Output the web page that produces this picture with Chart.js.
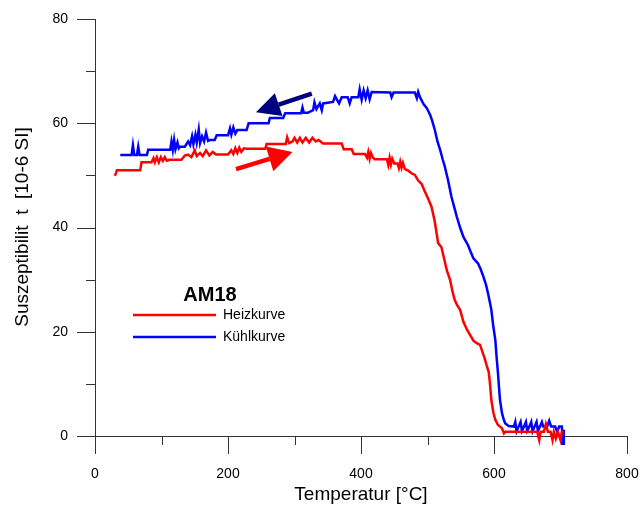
<!DOCTYPE html>
<html lang="de">
<head>
<meta charset="UTF-8">
<title>AM18 Suszeptibilität</title>
<script src="https://cdn.jsdelivr.net/npm/chart.js"></script>
<style>
  html, body { margin: 0; padding: 0; background: #fff; }
</style>
</head>
<body>
<canvas id="chart" width="640" height="506"></canvas>
<script>
// Heizkurve (red): temperature [°C] and susceptibility [10^-6 SI]
const heizT = [30, 33, 50, 68, 70, 85, 88, 90, 93, 96, 99, 102, 105, 108, 112, 130, 135, 140, 145, 150, 153, 158, 162, 167, 172, 177, 182, 200,
  205, 208, 211, 214, 217, 220, 224, 228, 256, 258, 287, 289, 292, 297, 300, 304, 308, 312, 317, 322, 327, 332, 336, 343, 371, 374, 386, 389,
  406, 409, 411, 413, 415, 418, 421, 439, 441, 443, 445, 447, 450, 455, 457, 459, 461, 463, 466, 471, 476, 481, 486, 491, 496, 501, 506, 511,
  516, 521, 525, 529, 534, 538, 541, 545, 549, 554, 559, 564, 569, 574, 579, 583, 586, 589, 592, 594, 596, 599, 602, 606, 609, 612, 615, 617,
  665, 668, 670, 675, 678, 681, 685, 688, 690, 693, 696, 700, 702, 704];
const heizK = [49.9, 51, 51, 51, 52.5, 52.5, 53.3, 52.5, 53.5, 52.5, 53.5, 52.8, 53.5, 52.8, 53, 53, 53.8, 54, 53.5, 54.8, 53.7, 54.3, 53.7, 54.8, 53.8, 54.5, 54, 54,
  54.8, 54.1, 55.2, 54.3, 55.3, 54.5, 55.2, 55.1, 55.1, 56, 56, 57.3, 56.2, 56.5, 57.2, 56.3, 57.2, 56.3, 57.2, 56.3, 57.2, 56.5, 56.8, 56.1, 56.1, 55, 55, 54.1,
  54.1, 53.4, 54.5, 53.2, 54.3, 53.4, 53.1, 53.1, 52, 53.4, 52.1, 53.2, 52.3, 52.3, 51.4, 52.6, 51.5, 52.4, 51.2, 50.9, 50.4, 50.1, 49, 48.4, 46.9, 45.5, 44, 41.1,
  37, 36.2, 34, 31.8, 29.9, 27.5, 26.1, 25, 24.2, 21.9, 20.5, 19.4, 18.3, 17.8, 17.5, 16, 14.9, 13.5, 12.3, 10, 6.9, 4.5, 3.1, 2.1, 1.8, 1.5, 0.5, 0.8,
  0.8, -0.8, 0.8, 0.8, 2.3, 0.8, 0.8, -0.8, 0.8, -0.5, 0.8, -0.8, 0.8, 0.8];

// Kühlkurve (blue)
const kuehlT = [38, 55, 57, 59, 63, 65, 67, 78, 80, 113, 115, 117, 119, 121, 124, 126, 128, 135, 140, 143, 146, 148, 151, 153, 156, 158, 161, 164,
  167, 170, 173, 180, 183, 200, 203, 205, 208, 211, 214, 218, 228, 231, 261, 263, 283, 286, 310, 312, 314, 320, 328, 330, 333, 338, 341, 343,
  358, 361, 364, 367, 371, 380, 383, 386, 396, 398, 401, 404, 407, 410, 413, 416, 444, 446, 449, 481, 484, 486, 489, 494, 499, 504, 507, 511,
  515, 519, 523, 526, 531, 536, 540, 544, 549, 554, 561, 565, 569, 576, 580, 584, 588, 591, 594, 596, 599, 602, 604, 606, 609, 612, 615, 617,
  622, 630, 632, 634, 637, 640, 642, 645, 648, 650, 653, 656, 658, 661, 664, 666, 669, 672, 674, 680, 683, 686, 692, 695, 698, 702, 704, 705];
const kuehlK = [53.9, 53.9, 55.8, 53.9, 53.9, 55.5, 53.9, 53.9, 54.9, 54.9, 56.5, 54.9, 56.8, 55, 56.3, 55.2, 55.5, 55.5, 56.5, 55.8, 57.5, 56, 57.8, 56.3, 58.8, 56.2, 57.5, 56.5,
  58.2, 56.6, 56.8, 56.8, 57.7, 57.7, 59, 57.8, 59.2, 58, 58.7, 58.7, 58.7, 60, 60, 61, 61, 61.9, 61.9, 63, 62, 62, 62.5, 64, 62.7, 63.8, 62.5, 63.8,
  64.1, 65.2, 64.5, 63.8, 65, 65, 63.8, 65, 65, 66.5, 64.5, 66.3, 64.8, 66.3, 64.6, 66, 65.9, 65, 65.9, 65.9, 64.8, 66, 64.9, 63.7, 62.9, 61.6, 60.5, 58.7,
  56.5, 54.9, 53, 51.7, 49, 45.9, 44, 42.1, 40, 38.2, 36.6, 35.3, 34.1, 33.1, 32, 30.6, 29, 27.4, 25.5, 24.2, 21, 18.4, 15, 12, 6.9, 4.4, 3, 2.4,
  1.9, 1.8, 2.7, 0.9, 1.8, 2.7, 1, 1.8, 2.7, 1, 1.8, 2.7, 0.9, 1.8, 2.7, 1, 1.8, 2.7, 1.8, 1.8, 2.9, 1.8, 1.8, 0.8, 1.8, 1.8, -1.5, 1.2];

const xTicks = [0, 200, 400, 600, 800];
const xMinor = [100, 300, 500, 700];
const yTicks = [0, 20, 40, 60, 80];
const yMinor = [10, 30, 50, 70];

// arrows in data units: [tail, tip]
const arrowHeiz = [[212, 51.2], [297, 54.5]];
const arrowKuehl = [[326, 65.7], [242, 62.1]];

const FONT = "'Liberation Sans', Arial, sans-serif";
Chart.defaults.font.family = FONT;

function drawArrow(ctx, x1, y1, x2, y2, color, headLen, headHalf) {
  const ang = Math.atan2(y2 - y1, x2 - x1);
  const bx = x2 - headLen * Math.cos(ang), by = y2 - headLen * Math.sin(ang);
  ctx.strokeStyle = color;
  ctx.fillStyle = color;
  ctx.lineWidth = 4.5;
  ctx.beginPath();
  ctx.moveTo(x1, y1);
  ctx.lineTo(bx, by);
  ctx.stroke();
  ctx.beginPath();
  ctx.moveTo(x2, y2);
  ctx.lineTo(bx + headHalf * Math.sin(ang), by - headHalf * Math.cos(ang));
  ctx.lineTo(bx - headHalf * Math.sin(ang), by + headHalf * Math.cos(ang));
  ctx.closePath();
  ctx.fill();
}

const axesPlugin = {
  id: 'axes',
  beforeDatasetsDraw(chart) {
    const ctx = chart.ctx, xs = chart.scales.x, ys = chart.scales.y;
    const x0 = xs.getPixelForValue(0), y0 = ys.getPixelForValue(0);
    ctx.save();
    ctx.strokeStyle = '#333';
    ctx.lineWidth = 1;
    ctx.beginPath();
    ctx.moveTo(x0 + 0.5, ys.getPixelForValue(80));
    ctx.lineTo(x0 + 0.5, y0);
    ctx.moveTo(x0, y0 + 0.5);
    ctx.lineTo(xs.getPixelForValue(800), y0 + 0.5);
    xTicks.forEach(v => { const p = Math.round(xs.getPixelForValue(v)) + 0.5; ctx.moveTo(p, y0); ctx.lineTo(p, y0 + 18); });
    xMinor.forEach(v => { const p = Math.round(xs.getPixelForValue(v)) + 0.5; ctx.moveTo(p, y0); ctx.lineTo(p, y0 + 9); });
    yTicks.forEach(v => { const p = Math.round(ys.getPixelForValue(v)) + 0.5; ctx.moveTo(x0, p); ctx.lineTo(x0 - 18, p); });
    yMinor.forEach(v => { const p = Math.round(ys.getPixelForValue(v)) + 0.5; ctx.moveTo(x0, p); ctx.lineTo(x0 - 9, p); });
    ctx.stroke();

    // y title, squeezed a little to the reference length
    ctx.fillStyle = '#000';
    ctx.translate(23, 227);
    ctx.rotate(-Math.PI / 2);
    ctx.textBaseline = 'middle';
    ctx.textAlign = 'center';
    ctx.font = '19px ' + FONT;
    const yTitle = 'Suszeptibilit  t  [10-6 SI]';
    const w = ctx.measureText(yTitle).width;
    ctx.scale(Math.min(1, 207 / w), 1);
    ctx.fillText(yTitle, 0, 0);
    ctx.restore();
  },
  afterDatasetsDraw(chart) {
    const ctx = chart.ctx, xs = chart.scales.x, ys = chart.scales.y;
    const px = p => [xs.getPixelForValue(p[0]), ys.getPixelForValue(p[1])];
    ctx.save();
    let t = px(arrowHeiz[0]), h = px(arrowHeiz[1]);
    drawArrow(ctx, t[0], t[1], h[0], h[1], '#ff0000', 24, 13);
    t = px(arrowKuehl[0]); h = px(arrowKuehl[1]);
    drawArrow(ctx, t[0], t[1], h[0], h[1], '#000080', 24, 12);

    // legend
    ctx.fillStyle = '#000';
    ctx.textBaseline = 'middle';
    ctx.textAlign = 'center';
    ctx.font = 'bold 20px ' + FONT;
    ctx.fillText('AM18', 210, 295);
    ctx.lineWidth = 2.5;
    ctx.strokeStyle = '#ff0000';
    ctx.beginPath(); ctx.moveTo(133, 315); ctx.lineTo(216, 315); ctx.stroke();
    ctx.strokeStyle = '#0000ff';
    ctx.beginPath(); ctx.moveTo(133, 337); ctx.lineTo(216, 337); ctx.stroke();
    ctx.textAlign = 'left';
    ctx.font = '14px ' + FONT;
    ctx.fillText('Heizkurve', 223, 315);
    ctx.fillText('Kühlkurve', 223, 337);
    ctx.restore();
  }
};

new Chart(document.getElementById('chart'), {
  type: 'line',
  data: {
    datasets: [{
      label: 'Heizkurve',
      data: heizT.map((t, i) => ({ x: t, y: heizK[i] })),
      borderColor: '#ff0000',
      borderWidth: 2.5,
      pointRadius: 0,
      tension: 0,
      clip: false
    }, {
      label: 'Kühlkurve',
      data: kuehlT.map((t, i) => ({ x: t, y: kuehlK[i] })),
      borderColor: '#0000ff',
      borderWidth: 2.5,
      pointRadius: 0,
      tension: 0,
      clip: false
    }]
  },
  options: {
    responsive: false,
    animation: false,
    layout: { padding: { top: 19, right: 13, left: 0, bottom: 0 } },
    plugins: { legend: { display: false }, tooltip: { enabled: false } },
    scales: {
      x: {
        type: 'linear', min: 0, max: 800,
        afterBuildTicks: s => { s.ticks = xTicks.map(v => ({ value: v })); },
        afterFit: s => { s.height = 70; s.paddingLeft = 0; s.paddingRight = 0; },
        grid: { display: false, drawTicks: false },
        border: { display: false },
        ticks: { color: '#000', font: { size: 14 }, padding: 30, maxRotation: 0 },
        title: { display: true, text: 'Temperatur [°C]', color: '#000', font: { size: 19 }, padding: { top: 5, bottom: 0 } }
      },
      y: {
        type: 'linear', min: 0, max: 80,
        afterBuildTicks: s => { s.ticks = yTicks.map(v => ({ value: v })); },
        afterFit: s => { s.width = 95; s.paddingTop = 0; s.paddingBottom = 0; },
        grid: { display: false, drawTicks: false },
        border: { display: false },
        ticks: { color: '#000', font: { size: 14 }, padding: 27 }
      }
    }
  },
  plugins: [axesPlugin]
});
</script>
</body>
</html>
